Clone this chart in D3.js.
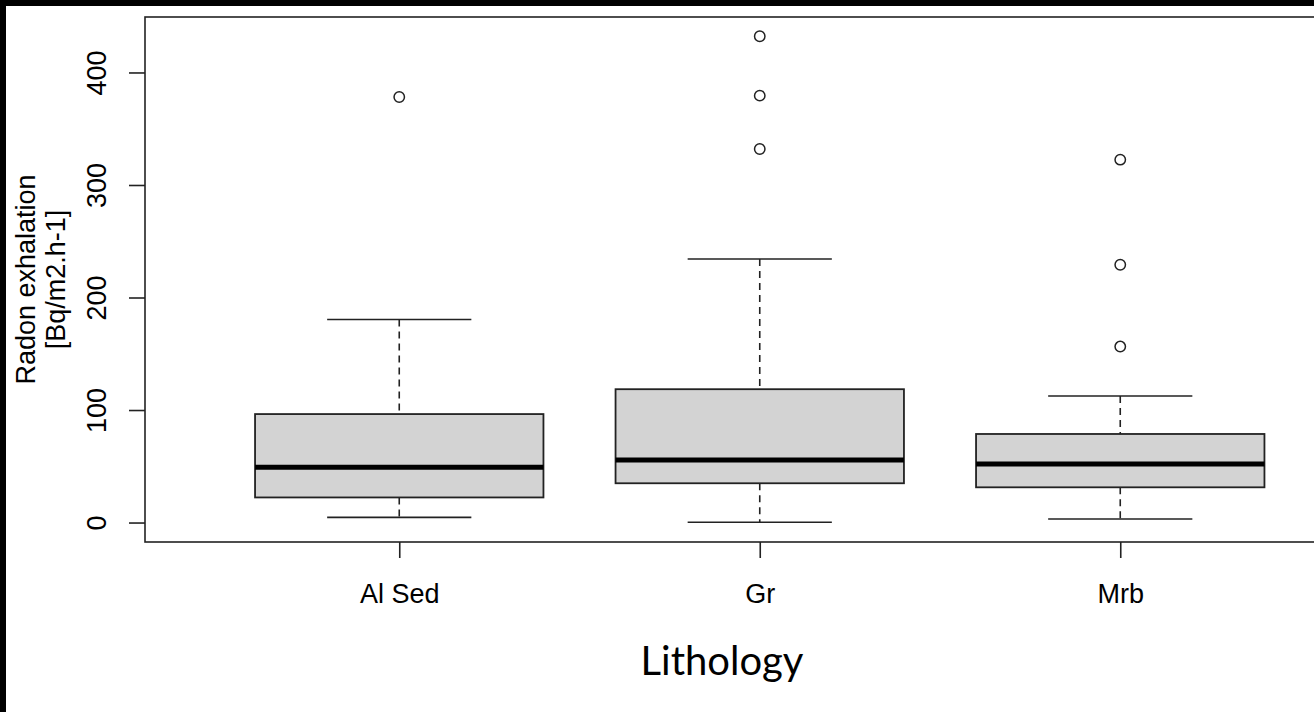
<!DOCTYPE html>
<html>
<head>
<meta charset="utf-8">
<script src="https://cdn.jsdelivr.net/npm/d3@7"></script>
<style>
  html, body { margin: 0; padding: 0; background: #fff; }
  svg { display: block; }
</style>
</head>
<body>
<div id="chart"></div>
<script>
// data
var categories = ["Al Sed", "Gr", "Mrb"];
var lowWhisker = [4.6, 0.2, 3.1];
var q1 = [22.3, 34.9, 31.3];
var median = [49.2, 55.6, 52.0];
var q3 = [96.4, 118.5, 78.7];
var highWhisker = [180.5, 234.2, 112.5];
var outliers = [[378.2], [432.2, 379.4, 332.0], [322.5, 229.1, 156.4]];
var yTicks = [0, 100, 200, 300, 400];

var W = 1314, H = 712;
var plotLeft = 145, plotTop = 17, plotBottom = 542, plotRight = 1374;
var ink = "#222";

var svg = d3.select("#chart").append("svg")
    .attr("width", W)
    .attr("height", H);

svg.append("rect").attr("width", W).attr("height", H).attr("fill", "#fff");
// black frame strips on top and left of the screenshot
svg.append("rect").attr("x", 0).attr("y", 0).attr("width", W).attr("height", 6).attr("fill", "#000");
svg.append("rect").attr("x", 0).attr("y", 0).attr("width", 6).attr("height", H).attr("fill", "#000");

var y = d3.scaleLinear().domain([-17.3, 449.3]).range([plotBottom, plotTop]);
var x = d3.scaleBand().domain(categories)
    .range([219, 1300.5])
    .paddingInner(0.2)
    .paddingOuter(0.1);

var boxes = categories.map(function(c, i){
    return {cat: c, lo: lowWhisker[i], q1: q1[i], med: median[i], q3: q3[i], hi: highWhisker[i], out: outliers[i]};
});

var g = svg.selectAll("g.box")
    .data(boxes)
    .enter()
    .append("g")
    .attr("class", "box");

function cx(d){ return x(d.cat) + x.bandwidth()/2; }

//dashed whiskers
g.append("line")
    .attr("x1", cx).attr("x2", cx)
    .attr("y1", function(d){ return y(d.hi); })
    .attr("y2", function(d){ return y(d.q3); })
    .attr("stroke", ink).attr("stroke-width", 1.6)
    .attr("stroke-dasharray", "7,5");
g.append("line")
    .attr("x1", cx).attr("x2", cx)
    .attr("y1", function(d){ return y(d.q1); })
    .attr("y2", function(d){ return y(d.lo); })
    .attr("stroke", ink).attr("stroke-width", 1.6)
    .attr("stroke-dasharray", "7,5");

//staples
["hi", "lo"].forEach(function(k){
    g.append("line")
        .attr("x1", function(d){ return cx(d) - x.bandwidth()/4; })
        .attr("x2", function(d){ return cx(d) + x.bandwidth()/4; })
        .attr("y1", function(d){ return y(d[k]); })
        .attr("y2", function(d){ return y(d[k]); })
        .attr("stroke", ink).attr("stroke-width", 1.6);
});

//box
g.append("rect")
    .attr("x", function(d){ return x(d.cat); })
    .attr("width", x.bandwidth())
    .attr("y", function(d){ return y(d.q3); })
    .attr("height", function(d){ return y(d.q1) - y(d.q3); })
    .attr("fill", "#d3d3d3")
    .attr("stroke", ink).attr("stroke-width", 1.8);

//median
g.append("line")
    .attr("x1", function(d){ return x(d.cat); })
    .attr("x2", function(d){ return x(d.cat) + x.bandwidth(); })
    .attr("y1", function(d){ return y(d.med); })
    .attr("y2", function(d){ return y(d.med); })
    .attr("stroke", "#000").attr("stroke-width", 5);

//outliers
g.selectAll("circle")
    .data(function(d){ return d.out.map(function(v){ return {cat: d.cat, v: v}; }); })
    .enter()
    .append("circle")
    .attr("cx", cx)
    .attr("cy", function(d){ return y(d.v); })
    .attr("r", 5.2)
    .attr("fill", "none")
    .attr("stroke", ink).attr("stroke-width", 1.5);

//plot frame
svg.append("rect")
    .attr("x", plotLeft).attr("y", plotTop)
    .attr("width", plotRight - plotLeft)
    .attr("height", plotBottom - plotTop)
    .attr("fill", "none")
    .attr("stroke", ink).attr("stroke-width", 1.6);

// y axis
var yAxis = svg.append("g")
    .attr("transform", "translate(" + plotLeft + ",0)")
    .call(d3.axisLeft(y).tickValues(yTicks).tickSize(16).tickSizeOuter(0).tickPadding(0));
yAxis.select(".domain").remove();
yAxis.selectAll(".tick line").attr("stroke", ink).attr("stroke-width", 1.6);
yAxis.selectAll(".tick text")
    .attr("x", null).attr("dy", null)
    .attr("transform", "translate(-39,0) rotate(-90)")
    .attr("text-anchor", "middle")
    .attr("fill", "#000")
    .style("font-family", "'Liberation Sans', Arial, sans-serif")
    .style("font-size", "27px");

// x axis
var xAxis = svg.append("g")
    .attr("transform", "translate(0," + plotBottom + ")")
    .call(d3.axisBottom(d3.scalePoint().domain(categories).range([cx(boxes[0]), cx(boxes[2])]))
        .tickSize(16).tickSizeOuter(0).tickPadding(0));
xAxis.select(".domain").remove();
xAxis.selectAll(".tick line").attr("stroke", ink).attr("stroke-width", 1.6);
xAxis.selectAll(".tick text")
    .attr("y", 61).attr("dy", null)
    .attr("fill", "#000")
    .style("font-family", "'Liberation Sans', Arial, sans-serif")
    .style("font-size", "27px");

// y label, two lines
var ylab = ["Radon exhalation", "[Bq/m2.h-1]"];
svg.selectAll("text.ylab")
    .data(ylab)
    .enter()
    .append("text")
    .attr("class", "ylab")
    .attr("transform", function(d, i){
        return "translate(" + (35 + i*30) + "," + (plotTop + plotBottom)/2 + ") rotate(-90)";
    })
    .attr("text-anchor", "middle")
    .style("font-family", "'Liberation Sans', Arial, sans-serif")
    .style("font-size", "27px")
    .text(function(d){ return d; });

// x title
svg.append("text")
    .attr("x", 722)
    .attr("y", 675)
    .attr("text-anchor", "middle")
    .style("font-family", "Lato, 'Open Sans', sans-serif")
    .style("font-size", "40px")
    .text("Lithology");
</script>
</body>
</html>
